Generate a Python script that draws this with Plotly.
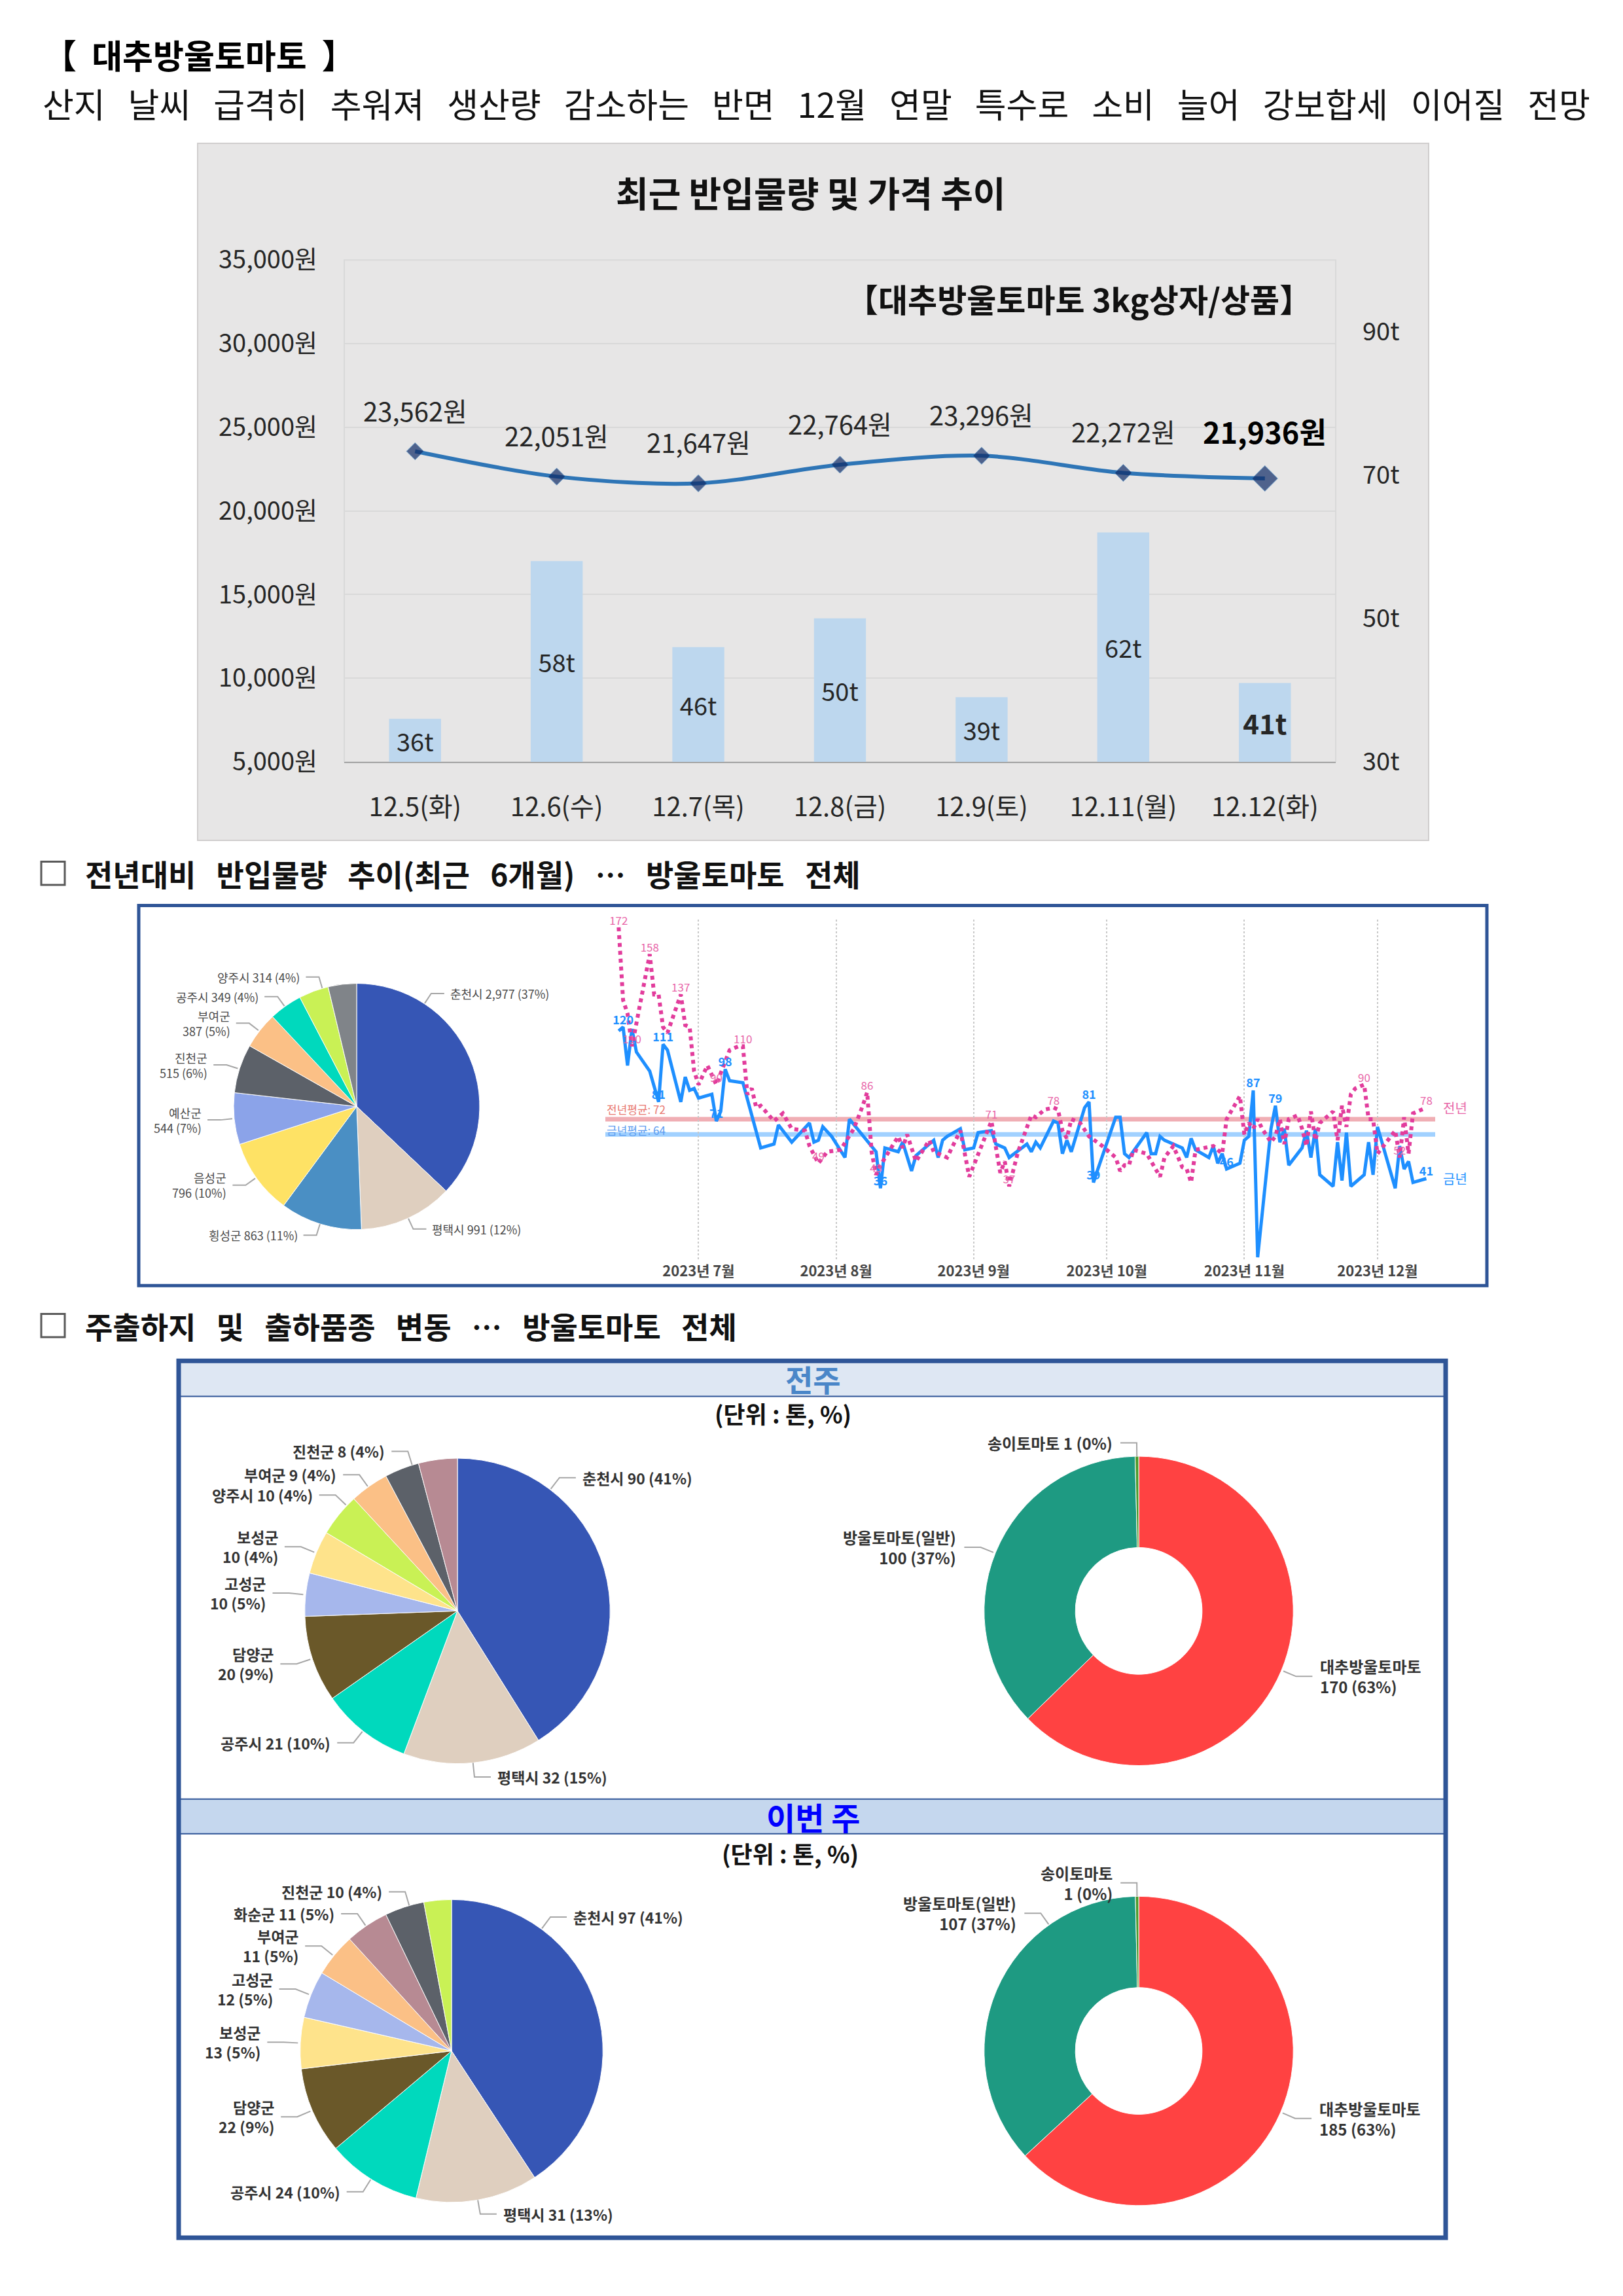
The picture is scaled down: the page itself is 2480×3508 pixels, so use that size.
import math
import plotly.graph_objects as go

W, H = 2480, 3508
FONT = "Noto Sans CJK KR"

# ================= DATA =================
# --- main chart: 대추방울토마토 3kg 상자/상품
days = ['12.5(화)', '12.6(수)', '12.7(목)', '12.8(금)', '12.9(토)', '12.11(월)', '12.12(화)']
price = [23562, 22051, 21647, 22764, 23296, 22272, 21936]
volume = [36, 58, 46, 50, 39, 62, 41]
VOL_FLOOR = 30
price_ticks = [5000, 10000, 15000, 20000, 25000, 30000, 35000]
vol_ticks = [30, 50, 70, 90]

# --- 6-month arrivals (금년 / 전년)
cur_dates = ['2023-06-13', '2023-06-14', '2023-06-15', '2023-06-16', '2023-06-17', '2023-06-20', '2023-06-22',
             '2023-06-23', '2023-06-24', '2023-06-27', '2023-06-28', '2023-06-29', '2023-06-30', '2023-07-01',
             '2023-07-04', '2023-07-05', '2023-07-06', '2023-07-07', '2023-07-08', '2023-07-11', '2023-07-15',
             '2023-07-18', '2023-07-19', '2023-07-22', '2023-07-26', '2023-07-27', '2023-07-28', '2023-07-29',
             '2023-07-31', '2023-08-03', '2023-08-04', '2023-08-08', '2023-08-10', '2023-08-11', '2023-08-12',
             '2023-08-15', '2023-08-16', '2023-08-18', '2023-08-19', '2023-08-23', '2023-08-24', '2023-08-25',
             '2023-08-26', '2023-08-29', '2023-08-30', '2023-09-01', '2023-09-02', '2023-09-05', '2023-09-06',
             '2023-09-08', '2023-09-09', '2023-09-13', '2023-09-14', '2023-09-15', '2023-09-16', '2023-09-19',
             '2023-09-20', '2023-09-21', '2023-09-22', '2023-09-23', '2023-09-26', '2023-09-27', '2023-09-28',
             '2023-09-29', '2023-10-03', '2023-10-04', '2023-10-05', '2023-10-06', '2023-10-10', '2023-10-11',
             '2023-10-12', '2023-10-13', '2023-10-14', '2023-10-16', '2023-10-18', '2023-10-19', '2023-10-20',
             '2023-10-21', '2023-10-24', '2023-10-25', '2023-10-26', '2023-10-27', '2023-10-28', '2023-10-31',
             '2023-11-01', '2023-11-02', '2023-11-03', '2023-11-04', '2023-11-07', '2023-11-08', '2023-11-09',
             '2023-11-10', '2023-11-11', '2023-11-14', '2023-11-15', '2023-11-16', '2023-11-17', '2023-11-18',
             '2023-11-21', '2023-11-22', '2023-11-23', '2023-11-24', '2023-11-25', '2023-11-28', '2023-11-29',
             '2023-11-30', '2023-12-01', '2023-12-05', '2023-12-06', '2023-12-07', '2023-12-08', '2023-12-09',
             '2023-12-12']
cur_vals = [118, 120, 100, 119, 107, 97, 81,
            111, 108, 81, 94, 87, 88, 83,
            85, 71, 76, 98, 92, 91, 57,
            59, 69, 60, 70, 60, 61, 68,
            63, 52, 72, 61, 55, 36, 57,
            55, 60, 45, 53, 61, 52, 61,
            63, 67, 56, 57, 65, 66, 59,
            57, 52, 59, 55, 60, 57, 71,
            70, 54, 61, 55, 78, 81, 39,
            46, 73, 73, 54, 52, 65, 54,
            54, 63, 61, 59, 57, 52, 62,
            56, 52, 58, 49, 54, 46, 49,
            61, 63, 87, 0, 67, 79, 60,
            67, 48, 57, 66, 52, 67, 43,
            37, 60, 40, 65, 37, 43, 60,
            43, 68, 36, 58, 46, 50, 39,
            41]
prev_dates = ['2023-06-13', '2023-06-14', '2023-06-15', '2023-06-16', '2023-06-20', '2023-06-21', '2023-06-22',
              '2023-06-23', '2023-06-24', '2023-06-27', '2023-06-28', '2023-06-29', '2023-06-30', '2023-07-01',
              '2023-07-03', '2023-07-05', '2023-07-06', '2023-07-08', '2023-07-10', '2023-07-11', '2023-07-12',
              '2023-07-13', '2023-07-14', '2023-07-15', '2023-07-18', '2023-07-20', '2023-07-22', '2023-07-25',
              '2023-07-26', '2023-07-28', '2023-07-29', '2023-07-30', '2023-08-02', '2023-08-05', '2023-08-07',
              '2023-08-08', '2023-08-09', '2023-08-10', '2023-08-11', '2023-08-15', '2023-08-16', '2023-08-17',
              '2023-08-19', '2023-08-22', '2023-08-23', '2023-08-26', '2023-08-29', '2023-08-31', '2023-09-05',
              '2023-09-06', '2023-09-07', '2023-09-08', '2023-09-09', '2023-09-11', '2023-09-14', '2023-09-15',
              '2023-09-17', '2023-09-19', '2023-09-20', '2023-09-21', '2023-09-22', '2023-09-23', '2023-09-25',
              '2023-09-27', '2023-09-30', '2023-10-03', '2023-10-04', '2023-10-05', '2023-10-06', '2023-10-07',
              '2023-10-10', '2023-10-11', '2023-10-13', '2023-10-14', '2023-10-16', '2023-10-18', '2023-10-19',
              '2023-10-20', '2023-10-21', '2023-10-25', '2023-10-27', '2023-10-28', '2023-10-31', '2023-11-01',
              '2023-11-02', '2023-11-03', '2023-11-04', '2023-11-05', '2023-11-06', '2023-11-07', '2023-11-08',
              '2023-11-09', '2023-11-10', '2023-11-11', '2023-11-13', '2023-11-14', '2023-11-15', '2023-11-16',
              '2023-11-17', '2023-11-18', '2023-11-21', '2023-11-22', '2023-11-23', '2023-11-24', '2023-11-25',
              '2023-11-26', '2023-11-28', '2023-11-29', '2023-11-30', '2023-12-01', '2023-12-02', '2023-12-05',
              '2023-12-06', '2023-12-07', '2023-12-08', '2023-12-09', '2023-12-12']
prev_vals = [172, 134, 127, 110, 158, 137, 137,
             120, 117, 137, 121, 120, 97, 90,
             100, 90, 96, 108, 110, 110, 85,
             88, 78, 79, 71, 75, 67, 66,
             58, 49, 52, 55, 56, 67, 79,
             86, 55, 43, 48, 63, 57, 64,
             50, 61, 55, 52, 66, 42, 71,
             58, 44, 50, 37, 55, 74, 73,
             77, 78, 77, 66, 62, 72, 70,
             63, 58, 52, 45, 48, 48, 56,
             54, 50, 42, 52, 58, 47, 46,
             39, 56, 58, 54, 72, 84, 64,
             70, 67, 72, 67, 63, 60, 63,
             72, 59, 72, 74, 67, 58, 76,
             61, 70, 76, 61, 79, 68, 85,
             88, 90, 72, 72, 54, 57, 66,
             52, 73, 54, 75, 78]
prev_avg = 72
cur_avg = 64
cur_label_dates = ['2023-06-14', '2023-06-22', '2023-06-23', '2023-07-05', '2023-07-07', '2023-08-11',
                   '2023-09-27', '2023-09-28', '2023-10-28', '2023-11-03', '2023-11-08', '2023-12-12']
prev_label_dates = ['2023-06-13', '2023-06-16', '2023-06-20', '2023-06-27', '2023-07-05', '2023-07-11',
                    '2023-07-28', '2023-08-08', '2023-08-10', '2023-09-05', '2023-09-09', '2023-09-19',
                    '2023-11-28', '2023-12-06', '2023-12-12']
month_ticks = ['2023-07-01', '2023-08-01', '2023-09-01', '2023-10-01', '2023-11-01', '2023-12-01']
month_text = ['2023년 7월', '2023년 8월', '2023년 9월', '2023년 10월', '2023년 11월', '2023년 12월']

# --- 6-month region share
regA_names = ['춘천시', '평택시', '횡성군', '음성군', '예산군', '진천군', '부여군', '공주시', '양주시', '기타']
regA_vals = [2977, 991, 863, 796, 544, 515, 387, 349, 314, 300]
regA_pct = [37, 12, 11, 10, 7, 6, 5, 4, 4, None]

# --- 전주 region / variety
regB_names = ['춘천시', '평택시', '공주시', '담양군', '고성군', '보성군', '양주시', '부여군', '진천군', '기타']
regB_vals = [90, 32, 21, 20, 10, 10, 10, 9, 8, 9]
regB_pct = [41, 15, 10, 9, 5, 4, 4, 4, 4, None]
var_names = ['대추방울토마토', '방울토마토(일반)', '송이토마토']
varB_vals = [170, 100, 1]
varB_pct = [63, 37, 0]

# --- 이번 주 region / variety
regC_names = ['춘천시', '평택시', '공주시', '담양군', '보성군', '고성군', '부여군', '화순군', '진천군', '기타']
regC_vals = [97, 31, 24, 22, 13, 12, 11, 11, 10, 7]
regC_pct = [41, 13, 10, 9, 5, 5, 5, 5, 4, None]
varC_vals = [185, 107, 1]
varC_pct = [63, 37, 0]

# ================= STYLE =================
BLUE, BEIGE, STEEL, YEL, PERI = '#3656B5', '#DFCFBF', '#4A8FC4', '#FEE265', '#8BA3E9'
DGRAY, PEACH, TEAL, LIME, GRAY = '#5C6169', '#FBC086', '#00D9BD', '#C9F155', '#808489'
OLIVE, LPERI, LYEL, MAUVE = '#6A5829', '#A6B7EC', '#FEE38B', '#B78A93'
regA_colors = [BLUE, BEIGE, STEEL, YEL, PERI, DGRAY, PEACH, TEAL, LIME, GRAY]
regB_colors = [BLUE, BEIGE, TEAL, OLIVE, LPERI, LYEL, LIME, PEACH, DGRAY, MAUVE]
regC_colors = [BLUE, BEIGE, TEAL, OLIVE, LYEL, LPERI, PEACH, MAUVE, DGRAY, LIME]
var_colors = ['#FF4242', '#1E9A82', '#4C9A2A']
NAVY_BOX = '#2F5597'
SP3 = '\u00a0\u00a0\u00a0'


def X(px):
    return px / W


def Y(py):
    return 1 - py / H


def dom(cx, cy, r):
    return dict(x=[X(cx - r), X(cx + r)], y=[Y(cy + r), Y(cy - r)])


shapes = []
annos = []


def text(x, y, s, size, color='#111', bold=False, xanchor='center', yanchor='middle', align='center'):
    annos.append(dict(x=X(x), y=Y(y), xref='paper', yref='paper', text=s, showarrow=False,
                      xanchor=xanchor, yanchor=yanchor, align=align,
                      font=dict(family=FONT, size=size, color=color, weight='bold' if bold else 'normal')))


def rect(x0, y0, x1, y1, line=None, lw=0, fill=None, layer='above'):
    shapes.append(dict(type='rect', xref='paper', yref='paper', x0=X(x0), x1=X(x1), y0=Y(y1), y1=Y(y0),
                       line=dict(color=line or 'rgba(0,0,0,0)', width=lw),
                       fillcolor=fill or 'rgba(0,0,0,0)', layer=layer))


def hline(x0, x1, y, color, lw):
    shapes.append(dict(type='line', xref='paper', yref='paper', x0=X(x0), x1=X(x1), y0=Y(y), y1=Y(y),
                       line=dict(color=color, width=lw)))


def pie_labels(cx, cy, r, vals, names, pcts, wraps, overrides, ext, hlen, gap, size, color, bold, thousands):
    total = float(sum(vals))
    cum = 0.0
    for i, v in enumerate(vals):
        mid = (cum + v / 2.0) / total * 360.0
        cum += v
        if pcts[i] is None:
            continue
        ang = math.radians(overrides.get(i, mid))
        s, c = math.sin(ang), math.cos(ang)
        x0, y0 = cx + r * s, cy - r * c
        x1, y1 = cx + (r + ext) * s, cy - (r + ext) * c
        side = 1 if s > 0 else -1
        x2 = x1 + side * hlen
        shapes.append(dict(type='path', xref='paper', yref='paper',
                           path=f"M {X(x0)},{Y(y0)} L {X(x1)},{Y(y1)} L {X(x2)},{Y(y1)}",
                           line=dict(color='#A6A6A6', width=2)))
        val = f"{v:,}" if thousands else f"{v}"
        sep = '<br>' if i in wraps else ' '
        lab = f"{names[i]}{sep}{val} ({pcts[i]}%)"
        text(x2 + side * gap, y1, lab, size, color, bold,
             xanchor='left' if side > 0 else 'right', align='left' if side > 0 else 'right')


fig = go.Figure()

# ================= PAGE TEXT =================
text(64, 53, '【\u00a0\u00a0대추방울토마토\u00a0\u00a0】', 51, '#000', True, xanchor='left')
sub = '산지 날씨 급격히 추워져 생산량 감소하는 반면 12월 연말 특수로 소비 늘어 강보합세 이어질 전망'
text(63, 129, sub.replace(' ', SP3), 52, '#111', xanchor='left')

# ================= MAIN CHART =================
rect(302, 191, 2183, 1273, line='#D0CECE', lw=2, fill='#E7E6E6', layer='below')
text(1239, 267, '최근 반입물량 및 가격 추이', 54, '#111', True)

fig.add_trace(go.Bar(x=days, y=[v - VOL_FLOOR for v in volume], base=[VOL_FLOOR] * len(volume),
                     yaxis='y2', width=0.367, marker=dict(color='#BDD7EE', line=dict(width=0)),
                     text=[f"{v}t" if i < len(volume) - 1 else f"<b>{v}t</b>" for i, v in enumerate(volume)],
                     textposition='inside', insidetextanchor='middle', constraintext='none', textangle=0,
                     textfont=dict(family=FONT, size=[38] * (len(volume) - 1) + [42], color='#262626'),
                     hoverinfo='skip'))
fig.add_trace(go.Scatter(x=days, y=price, mode='lines+markers', yaxis='y',
                         line=dict(color='#2E75B6', width=6, shape='spline', smoothing=0.9),
                         marker=dict(symbol='diamond', color='#0F2B66',
                                     size=[20] * (len(price) - 1) + [30]),
                         hoverinfo='skip'))
for i, p in enumerate(price):
    last = i == len(price) - 1
    annos.append(dict(x=days[i], y=p, xref='x', yref='y', text=f"{p:,}원", showarrow=False,
                      yshift=73 if last else 63, yanchor='middle',
                      font=dict(family=FONT, size=45 if last else 40, color='#000' if last else '#262626',
                                weight='bold' if last else 'normal')))
text(2006, 431, '【대추방울토마토 3kg상자/상품】', 49, '#111', True, xanchor='right')
shapes.append(dict(type='rect', xref='x domain', yref='y domain', x0=0, x1=1, y0=0, y1=1,
                   line=dict(color='#D9D9D9', width=2), layer='below'))

# ================= SECTION 1 =================
rect(63, 1306, 99, 1342, line='#595959', lw=3)
text(128, 1324, SP3.join(['전년대비', '반입물량', '추이(최근', '6개월)', '…', '방울토마토', '전체']),
     46, '#111', True, xanchor='left')
rect(212, 1374, 2272, 1964, line=NAVY_BOX, lw=5)

fig.add_trace(go.Pie(values=regA_vals, labels=regA_names, sort=False, direction='clockwise', rotation=0,
                     marker=dict(colors=regA_colors, line=dict(color='white', width=1)),
                     textinfo='none', hoverinfo='skip', domain=dom(545, 1686, 191), showlegend=False))
pie_labels(545, 1686, 191, regA_vals, regA_names, regA_pct, wraps={3, 4, 5, 6},
           overrides={0: 33, 8: 344}, ext=18, hlen=20, gap=7, size=18, color='#4A4A4A', bold=False,
           thousands=True)

# line chart
fig.add_trace(go.Scatter(x=cur_dates, y=cur_vals, mode='lines', xaxis='x2', yaxis='y3',
                         line=dict(color='#1E8FFF', width=5), hoverinfo='skip'))
fig.add_trace(go.Scatter(x=prev_dates, y=prev_vals, mode='lines', xaxis='x2', yaxis='y3',
                         line=dict(color='#E23C9C', width=6, dash='6px,6px'), hoverinfo='skip'))
cur_map = dict(zip(cur_dates, cur_vals))
prev_map = dict(zip(prev_dates, prev_vals))
fig.add_trace(go.Scatter(x=prev_label_dates, y=[prev_map[d] for d in prev_label_dates], mode='text',
                         xaxis='x2', yaxis='y3', text=[str(prev_map[d]) for d in prev_label_dates],
                         textposition='top center', textfont=dict(family=FONT, size=17, color='#E866A8'),
                         hoverinfo='skip', cliponaxis=False))
fig.add_trace(go.Scatter(x=cur_label_dates, y=[cur_map[d] for d in cur_label_dates], mode='text',
                         xaxis='x2', yaxis='y3', text=[str(cur_map[d]) for d in cur_label_dates],
                         textposition='top center',
                         textfont=dict(family=FONT, size=18, color='#1E8FFF', weight='bold'),
                         hoverinfo='skip', cliponaxis=False))
for val, col in ((prev_avg, 'rgba(230,120,130,0.6)'), (cur_avg, 'rgba(110,185,255,0.65)')):
    shapes.append(dict(type='line', xref='x2 domain', yref='y3', x0=0, x1=1, y0=val, y1=val,
                       line=dict(color=col, width=7), layer='below'))
annos.append(dict(x=0, y=prev_avg, xref='x2 domain', yref='y3', text=f"전년평균: {prev_avg}", showarrow=False,
                  xanchor='left', yanchor='middle', yshift=15, font=dict(family=FONT, size=17, color='#E8776F')))
annos.append(dict(x=0, y=cur_avg, xref='x2 domain', yref='y3', text=f"금년평균: {cur_avg}", showarrow=False,
                  xanchor='left', yanchor='middle', yshift=7, font=dict(family=FONT, size=17, color='#5B9CF0')))
annos.append(dict(x=1, y=prev_vals[-1], xref='x2 domain', yref='y3', text='전년', showarrow=False,
                  xanchor='left', yanchor='middle', xshift=10, font=dict(family=FONT, size=20, color='#E866A8')))
annos.append(dict(x=1, y=cur_vals[-1], xref='x2 domain', yref='y3', text='금년', showarrow=False,
                  xanchor='left', yanchor='middle', xshift=10, font=dict(family=FONT, size=20, color='#1E8FFF')))

# ================= SECTION 2 =================
rect(63, 2008, 99, 2044, line='#595959', lw=3)
text(128, 2026, SP3.join(['주출하지', '및', '출하품종', '변동', '…', '방울토마토', '전체']),
     46, '#111', True, xanchor='left')
BX0, BX1, BY0, BY1 = 273, 2209, 2081, 3442
rect(BX0, BY0, BX1, 2136, fill='#DEE7F3', layer='below')
rect(BX0, 2761, BX1, 2815, fill='#C5D7EE', layer='below')
hline(BX0, BX1, 2136, NAVY_BOX, 2)
hline(BX0, BX1, 2761, NAVY_BOX, 2)
hline(BX0, BX1, 2815, NAVY_BOX, 2)
rect(BX0, BY0, BX1, BY1, line=NAVY_BOX, lw=7)
text(1242, 2108, '전주', 46, '#4A86C8', True)
text(1242, 2788, '이번 주', 48, '#0000FF', True)
text(1196, 2162, '(단위 : 톤, %)', 36, '#111', True)
text(1207, 2845, '(단위 : 톤, %)', 36, '#111', True)

fig.add_trace(go.Pie(values=regB_vals, labels=regB_names, sort=False, direction='clockwise', rotation=0,
                     marker=dict(colors=regB_colors, line=dict(color='white', width=1)),
                     textinfo='none', hoverinfo='skip', domain=dom(699, 2469, 237), showlegend=False))
pie_labels(699, 2469, 237, regB_vals, regB_names, regB_pct, wraps={3, 4, 5},
           overrides={0: 37, 6: 314, 8: 343}, ext=22, hlen=25, gap=8, size=23, color='#333', bold=True,
           thousands=False)
fig.add_trace(go.Pie(values=varB_vals, labels=var_names, sort=False, direction='clockwise', rotation=0,
                     hole=0.41, marker=dict(colors=var_colors, line=dict(color='white', width=1)),
                     textinfo='none', hoverinfo='skip', domain=dom(1740, 2469, 240), showlegend=False))
pie_labels(1740, 2469, 240, varB_vals, var_names, varB_pct, wraps={0, 1},
           overrides={}, ext=21, hlen=25, gap=10, size=24, color='#333', bold=True, thousands=False)

fig.add_trace(go.Pie(values=regC_vals, labels=regC_names, sort=False, direction='clockwise', rotation=0,
                     marker=dict(colors=regC_colors, line=dict(color='white', width=1)),
                     textinfo='none', hoverinfo='skip', domain=dom(690, 3152, 235), showlegend=False))
pie_labels(690, 3152, 235, regC_vals, regC_names, regC_pct, wraps={3, 4, 5, 6},
           overrides={0: 36, 8: 344}, ext=22, hlen=25, gap=8, size=23, color='#333', bold=True,
           thousands=False)
fig.add_trace(go.Pie(values=varC_vals, labels=var_names, sort=False, direction='clockwise', rotation=0,
                     hole=0.41, marker=dict(colors=var_colors, line=dict(color='white', width=1)),
                     textinfo='none', hoverinfo='skip', domain=dom(1740, 3152, 240), showlegend=False))
pie_labels(1740, 3152, 240, varC_vals, var_names, varC_pct, wraps={0, 1, 2},
           overrides={1: 325}, ext=21, hlen=25, gap=10, size=24, color='#333', bold=True, thousands=False)

# ================= LAYOUT =================
fig.update_layout(
    width=W, height=H, margin=dict(l=0, r=0, t=0, b=0), autosize=False,
    paper_bgcolor='white', plot_bgcolor='white', showlegend=False, hovermode=False,
    font=dict(family=FONT),
    xaxis=dict(domain=[X(526), X(2041)], anchor='y', type='category', showgrid=False, zeroline=False,
               showline=True, linecolor='#A6A6A6', linewidth=2, ticks='', ticklabelstandoff=33,
               tickfont=dict(family=FONT, size=40, color='#262626')),
    yaxis=dict(domain=[Y(1151), Y(372)], anchor='x', range=[price_ticks[0], price_ticks[-1]],
               tickvals=price_ticks, ticktext=[f"{v:,}원" for v in price_ticks],
               showgrid=True, gridcolor='#D9D9D9',
               gridwidth=2, zeroline=False, showline=False, ticks='', ticklabelstandoff=40,
               tickfont=dict(family=FONT, size=38, color='#262626')),
    yaxis2=dict(overlaying='y', side='right', anchor='x', range=[VOL_FLOOR, 100], tickvals=vol_ticks,
                ticktext=[f"{v}t" for v in vol_ticks],
                showgrid=False, zeroline=False, showline=False, ticks='', ticklabelstandoff=40,
                tickfont=dict(family=FONT, size=38, color='#262626')),
    xaxis2=dict(domain=[X(925), X(2193)], anchor='y3', type='date', range=['2023-06-10', '2023-12-14'],
                tickvals=month_ticks, ticktext=month_text, showgrid=True, griddash='dot', gridcolor='#C8C8C8',
                gridwidth=2, zeroline=False, showline=False, ticks='', ticklabelstandoff=0,
                tickfont=dict(family=FONT, size=22, color='#444', weight='bold')),
    yaxis3=dict(domain=[Y(1926), Y(1396)], anchor='x2', range=[-2, 176], visible=False),
    shapes=shapes, annotations=annos,
)

fig.write_html("out.html", config={'displayModeBar': False},
               post_script="document.body.style.margin='0';")
